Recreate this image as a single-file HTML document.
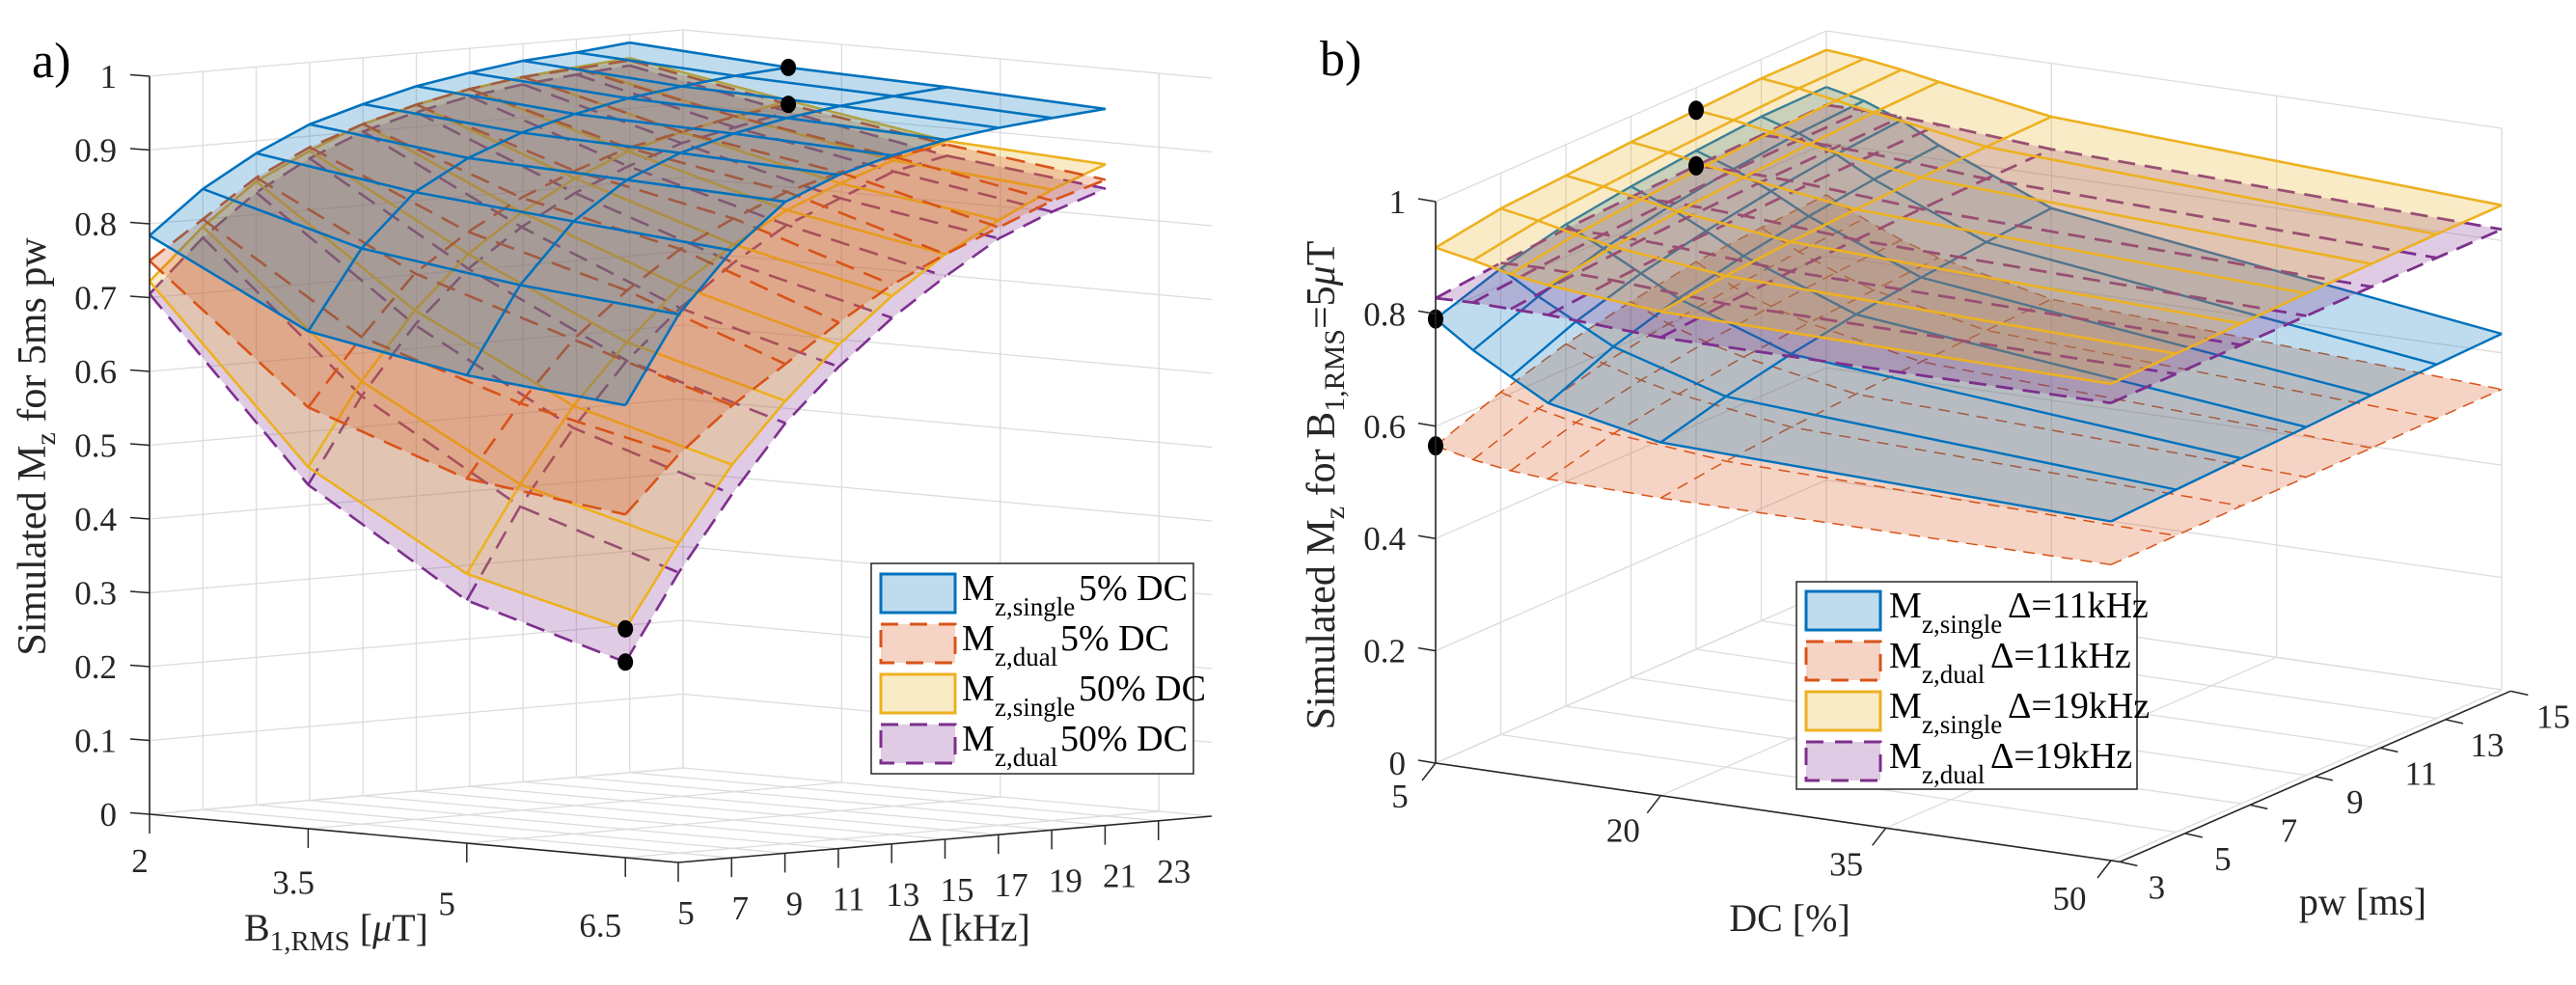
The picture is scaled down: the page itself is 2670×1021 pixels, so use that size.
<!DOCTYPE html>
<html><head><meta charset="utf-8"><style>
html,body{margin:0;padding:0;background:#fff}
svg, svg text{font-family:"Liberation Serif","DejaVu Serif",serif}
</style></head><body>
<svg id="fig" width="2670" height="1016" viewBox="0 0 2670 1016" xmlns="http://www.w3.org/2000/svg" font-family="Liberation Serif, DejaVu Serif, serif">
<rect width="2670" height="1016" fill="#fff"/>
<g id="pa"></g>
<g id="pb"></g>

<text font-family="Liberation Serif, serif" x="33" y="80" font-size="52" fill="#000">a)</text>
<text font-family="Liberation Serif, serif" x="1368" y="78" font-size="52" fill="#000">b)</text>

<text font-family="Liberation Serif, serif" transform="translate(47,463) rotate(-90)" text-anchor="middle" font-size="42" fill="#262626">Simulated M<tspan font-size="30" dy="10">z</tspan><tspan dy="-10"> for 5ms pw</tspan></text>
<text font-family="Liberation Serif, serif" transform="translate(1383,503) rotate(-90)" text-anchor="middle" font-size="42" fill="#262626">Simulated M<tspan font-size="30" dy="10">z</tspan><tspan dy="-10"> for B</tspan><tspan font-size="30" dy="10">1,RMS</tspan><tspan dy="-10">=5</tspan><tspan font-style="italic">μ</tspan>T</text>

<text font-family="Liberation Serif, serif" x="253" y="975" font-size="40" fill="#262626">B<tspan font-size="29" dy="10">1,RMS</tspan><tspan dy="-10"> [</tspan><tspan font-style="italic">μ</tspan>T]</text>
<text font-family="Liberation Serif, serif" x="941" y="975" font-size="40" fill="#262626">Δ [kHz]</text>
<text font-family="Liberation Serif, serif" x="1855" y="965" text-anchor="middle" font-size="40" fill="#262626">DC [%]</text>
<text font-family="Liberation Serif, serif" x="2449" y="948" text-anchor="middle" font-size="40" fill="#262626">pw [ms]</text>

<g id="legA">
 <rect x="903" y="584" width="334" height="218" fill="#fff" stroke="#262626" stroke-width="1.5"/>
</g>
<g id="legB">
 <rect x="1862" y="603" width="353" height="215" fill="#fff" stroke="#262626" stroke-width="1.5"/>
</g>
</svg>
<script>
// ---------- Panel a data ----------
const aB = [2, 3.5, 5, 6.5];
const aDelta = [5, 7, 9, 11, 13, 15, 17, 19, 21, 23];
const aSingle5 = [
 [0.784,0.841,0.883,0.916,0.937,0.955,0.967,0.977,0.982,0.989],
 [0.674,0.78,0.85,0.89,0.918,0.937,0.952,0.962,0.97,0.975],
 [0.634,0.75,0.83,0.88,0.91,0.93,0.945,0.955,0.962,0.968],
 [0.613,0.73,0.81,0.87,0.90,0.92,0.935,0.945,0.952,0.958]];
const aDual5 = [
 [0.75,0.80,0.85,0.885,0.91,0.93,0.945,0.955,0.96,0.965],
 [0.571,0.66,0.74,0.79,0.83,0.86,0.885,0.90,0.915,0.925],
 [0.494,0.59,0.67,0.73,0.78,0.815,0.845,0.865,0.88,0.89],
 [0.465,0.54,0.60,0.65,0.70,0.745,0.78,0.81,0.84,0.862]];
const aSingle50 = [
 [0.722,0.79,0.845,0.88,0.91,0.93,0.945,0.955,0.962,0.968],
 [0.49,0.60,0.69,0.76,0.81,0.85,0.88,0.90,0.915,0.93],
 [0.365,0.48,0.58,0.66,0.73,0.78,0.82,0.85,0.875,0.895],
 [0.31,0.42,0.52,0.60,0.67,0.73,0.78,0.82,0.855,0.883]];
const aDual50 = [
 [0.705,0.775,0.83,0.87,0.90,0.92,0.935,0.945,0.952,0.958],
 [0.466,0.58,0.67,0.74,0.79,0.83,0.86,0.885,0.90,0.915],
 [0.329,0.45,0.55,0.635,0.70,0.755,0.80,0.83,0.86,0.875],
 [0.265,0.38,0.48,0.57,0.64,0.70,0.75,0.795,0.825,0.85]];
const aZTicks = [0,0.1,0.2,0.3,0.4,0.5,0.6,0.7,0.8,0.9,1];
const aZLabels = ["0","0.1","0.2","0.3","0.4","0.5","0.6","0.7","0.8","0.9","1"];
const aBTicks = [2,3.5,5,6.5];
const aBLabels = ["2","3.5","5","6.5"];
const aDTicks = [5,7,9,11,13,15,17,19,21,23];
const aDLabels = ["5","7","9","11","13","15","17","19","21","23"];
const aMarkers = [[0,1,9],[1,1,9],[2,3,0],[3,3,0]];

// ---------- Panel b data ----------
const bDC = [5, 7.5, 10, 12.5, 20, 50];
const bPw = [3, 5, 7, 9, 11, 13, 15];
const bSingle11 = [
 [0.791,0.83,0.858,0.875,0.888,0.898,0.90],
 [0.745,0.79,0.825,0.848,0.865,0.878,0.885],
 [0.707,0.755,0.79,0.815,0.835,0.85,0.86],
 [0.67,0.72,0.755,0.78,0.80,0.815,0.825],
 [0.629,0.66,0.685,0.705,0.72,0.732,0.742],
 [0.604,0.61,0.615,0.62,0.626,0.63,0.634]];
const bDual11 = [
 [0.565,0.61,0.645,0.67,0.69,0.70,0.708],
 [0.55,0.59,0.62,0.64,0.655,0.667,0.675],
 [0.54,0.575,0.60,0.617,0.63,0.64,0.647],
 [0.535,0.565,0.585,0.60,0.61,0.618,0.625],
 [0.53,0.545,0.555,0.563,0.57,0.575,0.58],
 [0.527,0.528,0.53,0.531,0.532,0.534,0.535]];
const bSingle19 = [
 [0.918,0.937,0.945,0.954,0.96,0.966,0.966],
 [0.905,0.925,0.935,0.945,0.952,0.958,0.96],
 [0.89,0.91,0.922,0.932,0.94,0.946,0.95],
 [0.88,0.898,0.91,0.92,0.928,0.934,0.938],
 [0.862,0.875,0.885,0.892,0.898,0.902,0.905],
 [0.849,0.852,0.855,0.858,0.86,0.862,0.863]];
const bDual19 = [
 [0.828,0.84,0.85,0.856,0.861,0.865,0.868],
 [0.83,0.842,0.85,0.857,0.862,0.866,0.868],
 [0.828,0.84,0.849,0.855,0.86,0.863,0.866],
 [0.827,0.838,0.846,0.852,0.857,0.86,0.862],
 [0.816,0.825,0.832,0.838,0.842,0.845,0.847],
 [0.815,0.816,0.817,0.818,0.819,0.82,0.82]];
const bZTicks = [0,0.2,0.4,0.6,0.8,1];
const bZLabels = ["0","0.2","0.4","0.6","0.8","1"];
const bDCTicks = [5,20,35,50];
const bDCLabels = ["5","20","35","50"];
const bPwTicks = [3,5,7,9,11,13,15];
const bPwLabels = ["3","5","7","9","11","13","15"];
const bMarkers = [[0,0,0],[1,0,0],[2,0,4],[3,0,4]];

// ---------- projections (axis functions) ----------
function projA(B, D, z){ const b=(B-2)/5, d=(D-5)/20; return [155+548*b+553*d, 844+50*b-48*d-765*z]; }
function projB(DC, pw, z){ const d=(DC-5)/45, p=(pw-3)/12; return [1488+700*d+405*p, 791+101*d-177*p-582*z]; }

const NS="http://www.w3.org/2000/svg";
const SERIF="Liberation Serif, DejaVu Serif, serif";
function mk(tag, attrs, parent){ const e=document.createElementNS(NS,tag); for(const k in attrs) e.setAttribute(k,attrs[k]); if(tag==="text") e.setAttribute("font-family",SERIF); parent.appendChild(e); return e; }
function pts(arr){ return arr.map(p=>p[0].toFixed(1)+","+p[1].toFixed(1)).join(" "); }

const styles = [
 {c:"#0072BD", fill:"rgba(0,114,189,0.25)", dash:"none"},
 {c:"#D95319", fill:"rgba(217,83,25,0.25)", dash:"20,11"},
 {c:"#EDB120", fill:"rgba(237,177,32,0.25)", dash:"none"},
 {c:"#7E2F8E", fill:"rgba(126,47,142,0.25)", dash:"20,11"}];

function drawGridA(g){
  const gg=mk("g",{},g);
  
  
  const gs={stroke:"#dcdcdc","stroke-width":1.3,fill:"none"};
  aBTicks.forEach(B=>{ mk("polyline",Object.assign({points:pts([projA(B,5,0),projA(B,25,0)])},gs),gg); });
  aDTicks.forEach(D=>{ mk("polyline",Object.assign({points:pts([projA(2,D,0),projA(7,D,0)])},gs),gg); });
  aDTicks.forEach(D=>{ mk("polyline",Object.assign({points:pts([projA(2,D,0),projA(2,D,1)])},gs),gg); });
  mk("polyline",Object.assign({points:pts([projA(2,25,0),projA(2,25,1)])},gs),gg);
  aZTicks.forEach(z=>{ mk("polyline",Object.assign({points:pts([projA(2,5,z),projA(2,25,z)])},gs),gg); });
  aBTicks.forEach(B=>{ mk("polyline",Object.assign({points:pts([projA(B,25,0),projA(B,25,1)])},gs),gg); });
  aZTicks.forEach(z=>{ mk("polyline",Object.assign({points:pts([projA(2,25,z),projA(7,25,z)])},gs),gg); });
}
function drawGridB(g){
  const gg=mk("g",{},g);
  
  
  const gs={stroke:"#dcdcdc","stroke-width":1.3,fill:"none"};
  bDCTicks.forEach(v=>{ mk("polyline",Object.assign({points:pts([projB(v,3,0),projB(v,15,0)])},gs),gg); });
  bPwTicks.forEach(v=>{ mk("polyline",Object.assign({points:pts([projB(5,v,0),projB(50,v,0)])},gs),gg); });
  bPwTicks.forEach(v=>{ mk("polyline",Object.assign({points:pts([projB(5,v,0),projB(5,v,1)])},gs),gg); });
  bZTicks.forEach(z=>{ mk("polyline",Object.assign({points:pts([projB(5,3,z),projB(5,15,z)])},gs),gg); });
  bDCTicks.forEach(v=>{ mk("polyline",Object.assign({points:pts([projB(v,15,0),projB(v,15,1)])},gs),gg); });
  bZTicks.forEach(z=>{ mk("polyline",Object.assign({points:pts([projB(5,15,z),projB(50,15,z)])},gs),gg); });
}

function drawSurface(g, proj, xs, ys, Z, st, name, lw, dash){
  const sg=mk("g",{},g);
  
  
  for(let i=0;i<xs.length-1;i++) for(let j=0;j<ys.length-1;j++){
    const q=[proj(xs[i],ys[j],Z[i][j]),proj(xs[i+1],ys[j],Z[i+1][j]),proj(xs[i+1],ys[j+1],Z[i+1][j+1]),proj(xs[i],ys[j+1],Z[i][j+1])];
    mk("polygon",{points:pts(q),fill:st.fill,stroke:"none"},sg);
  }
  const ls={stroke:st.c,"stroke-width":lw,fill:"none","stroke-dasharray":dash,"stroke-linejoin":"round"};
  for(let i=0;i<xs.length;i++){ const line=ys.map((y,j)=>proj(xs[i],y,Z[i][j])); mk("polyline",Object.assign({points:pts(line)},ls),sg); }
  for(let j=0;j<ys.length;j++){ const line=xs.map((x,i)=>proj(x,ys[j],Z[i][j])); mk("polyline",Object.assign({points:pts(line)},ls),sg); }
}

function axisLine(g, a, b, name){
  const l=mk("polyline",{points:pts([a,b]),stroke:"#262626","stroke-width":1.6,fill:"none"},g);
  
  
}
function label(g, x, y, txt, anchor, name){
  const t=mk("text",{x:x,y:y,"text-anchor":anchor,"font-size":35,fill:"#262626"},g);
  t.textContent=txt;
  
  
}

// ---------- Panel a ----------
const pa=document.getElementById("pa");
drawGridA(pa);
const aSurfs=[aSingle5,aDual5,aSingle50,aDual50];
const aNames=["surface-single-5dc","surface-dual-5dc","surface-single-50dc","surface-dual-50dc"];
[3,2,1,0].forEach(k=>drawSurface(pa,projA,aB,aDelta,aSurfs[k],styles[k],aNames[k],2.6,styles[k].dash));
aMarkers.forEach(m=>{ const p=projA(aB[m[1]],aDelta[m[2]],aSurfs[m[0]][m[1]][m[2]]);
  const c=mk("ellipse",{cx:p[0],cy:p[1],rx:8,ry:9,fill:"#000"},pa);
  
   });
axisLine(pa,projA(2,5,0),projA(2,5,1),"panel-a-z-axis");
axisLine(pa,projA(2,5,0),projA(7,5,0),"panel-a-b1rms-axis");
axisLine(pa,projA(7,5,0),projA(7,25,0),"panel-a-delta-axis");
aZTicks.forEach((z,i)=>{ const p=projA(2,5,z);
  mk("line",{x1:p[0]-20,y1:p[1]-1.5,x2:p[0],y2:p[1],stroke:"#262626","stroke-width":1.5},pa);
  label(pa,p[0]-34,p[1]+12,aZLabels[i],"end","panel-a-z-tick-label"); });
aBTicks.forEach((B,i)=>{ const p=projA(B,5,0); const t=(B-2)/4.5;
  mk("line",{x1:p[0],y1:p[1],x2:p[0],y2:p[1]+20,stroke:"#262626","stroke-width":1.5},pa);
  label(pa,p[0]-10-16*t,p[1]+60+22*t,aBLabels[i],"middle","panel-a-b1rms-tick-label"); });
aDTicks.forEach((D,i)=>{ const p=projA(7,D,0); const t=(D-5)/18;
  mk("line",{x1:p[0],y1:p[1],x2:p[0],y2:p[1]+20,stroke:"#262626","stroke-width":1.5},pa);
  label(pa,p[0]+8+8*t,p[1]+64,aDLabels[i],"middle","panel-a-delta-tick-label"); });

// ---------- Panel b ----------
const pb=document.getElementById("pb");
drawGridB(pb);
const bSurfs=[bSingle11,bDual11,bSingle19,bDual19];
const bNames=["surface-single-11khz","surface-dual-11khz","surface-single-19khz","surface-dual-19khz"];
const bW=[2.4,1.5,2.6,2.8];
const bDash=["none","12,8","none","18,10"];
[1,0,3,2].forEach(k=>drawSurface(pb,projB,bDC,bPw,bSurfs[k],styles[k],bNames[k],bW[k],bDash[k]));
bMarkers.forEach(m=>{ const p=projB(bDC[m[1]],bPw[m[2]],bSurfs[m[0]][m[1]][m[2]]);
  const c=mk("ellipse",{cx:p[0],cy:p[1],rx:8,ry:10,fill:"#000"},pb);
  
   });
axisLine(pb,projB(5,3,0),projB(5,3,1),"panel-b-z-axis");
axisLine(pb,projB(5,3,0),projB(50.6,3,0),"panel-b-dc-axis");
axisLine(pb,projB(50.6,3,0),projB(50.6,15,0),"panel-b-pw-axis");
bZTicks.forEach((z,i)=>{ const p=projB(5,3,z);
  mk("line",{x1:p[0]-18,y1:p[1]-3,x2:p[0],y2:p[1],stroke:"#262626","stroke-width":1.5},pb);
  label(pb,p[0]-31,p[1]+12,bZLabels[i],"end","panel-b-z-tick-label"); });
bDCTicks.forEach((v,i)=>{ const p=projB(v,3,0); const t=(v-5)/45;
  mk("line",{x1:p[0],y1:p[1],x2:p[0]-14,y2:p[1]+18,stroke:"#262626","stroke-width":1.5},pb);
  label(pb,p[0]-37-6*t,p[1]+46+5*t,bDCLabels[i],"middle","panel-b-dc-tick-label"); });
bPwTicks.forEach((v,i)=>{ const p=projB(50.6,v,0); const t=(v-3)/12;
  mk("line",{x1:p[0],y1:p[1],x2:p[0]+18,y2:p[1]+4,stroke:"#262626","stroke-width":1.5},pb);
  label(pb,p[0]+38+6*t,p[1]+38,bPwLabels[i],"middle","panel-b-pw-tick-label"); });

// ---------- legends ----------
function legend(gid, y0, step, sx, sw, sh, mx, textX, entries){
  const g=document.getElementById(gid);
  entries.forEach((e,i)=>{
    const y=y0+i*step, st=styles[i];
    const it=mk("g",{},g);
    
    
    mk("rect",{x:sx,y:y,width:sw,height:sh,fill:st.fill,stroke:st.c,"stroke-width":3,"stroke-dasharray":(i%2? "18,12":"none")},it);
    const t=mk("text",{x:mx,y:y+27,"font-size":38,fill:"#000"},it);
    t.textContent="M";
    const s=mk("text",{x:mx+34,y:y+43,"font-size":27,fill:"#000"},it);
    s.textContent=e[0];
    const r=mk("text",{x:textX[i],y:y+27,"font-size":38,fill:"#000"},it);
    r.textContent=e[1];
  });
}
legend("legA",595,52,913,77,40,997,[1118,1099,1118,1099],
  [["z,single","5% DC"],["z,dual","5% DC"],["z,single","50% DC"],["z,dual","50% DC"]]);
legend("legB",613,52,1872,77,40,1958,[2081,2063,2081,2063],
  [["z,single","Δ=11kHz"],["z,dual","Δ=11kHz"],["z,single","Δ=19kHz"],["z,dual","Δ=19kHz"]]);
</script>
</body></html>
